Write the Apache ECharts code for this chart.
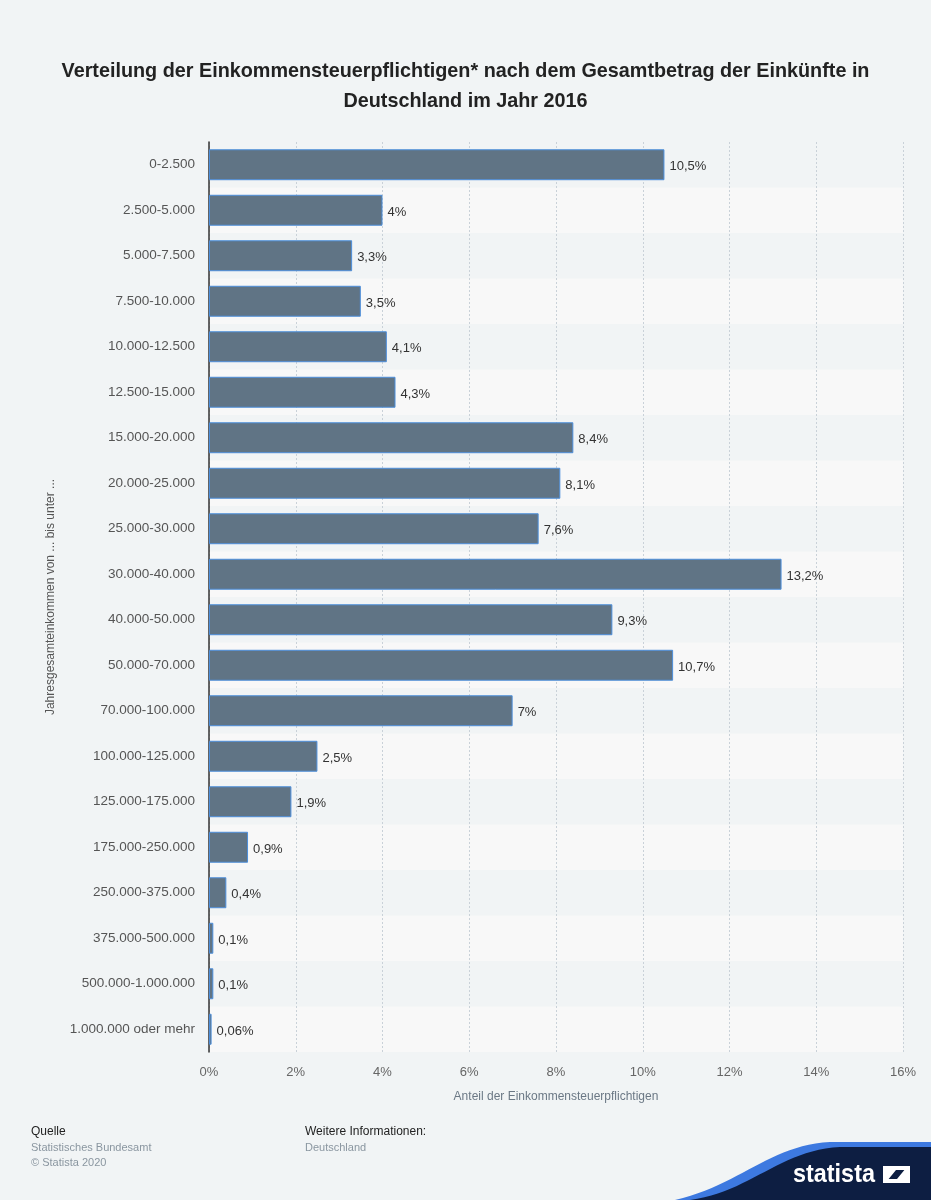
<!DOCTYPE html>
<html>
<head>
<meta charset="utf-8">
<script src="https://cdn.jsdelivr.net/npm/echarts@6/dist/echarts.min.js"></script>
<style>
html,body{margin:0;padding:0;background:#f1f4f5;}
#chart{width:931px;height:1200px;}
</style>
</head>
<body>
<div id="chart"></div>
<script>
const categories = ["0-2.500","2.500-5.000","5.000-7.500","7.500-10.000","10.000-12.500","12.500-15.000","15.000-20.000","20.000-25.000","25.000-30.000","30.000-40.000","40.000-50.000","50.000-70.000","70.000-100.000","100.000-125.000","125.000-175.000","175.000-250.000","250.000-375.000","375.000-500.000","500.000-1.000.000","1.000.000 oder mehr"];
const values = [10.5,4,3.3,3.5,4.1,4.3,8.4,8.1,7.6,13.2,9.3,10.7,7,2.5,1.9,0.9,0.4,0.1,0.1,0.06];
const xTicks = [0,2,4,6,8,10,12,14,16];

const FONT = "'Liberation Sans', Arial, Helvetica, sans-serif";

// decorative logo wave (cubic bezier sampled)
function wave(p0, c1, c2, p1, yTop) {
  const pts = [];
  for (let i = 0; i <= 24; i++) {
    const t = i / 24, u = 1 - t;
    pts.push([
      u*u*u*p0[0] + 3*u*u*t*c1[0] + 3*u*t*t*c2[0] + t*t*t*p1[0],
      u*u*u*p0[1] + 3*u*u*t*c1[1] + 3*u*t*t*c2[1] + t*t*t*p1[1]
    ]);
  }
  pts.push([931, yTop], [931, 1200]);
  return pts;
}

const chart = echarts.init(document.getElementById('chart'));
chart.setOption({
  backgroundColor: '#f1f4f5',
  animation: false,
  textStyle: { fontFamily: FONT },
  title: {
    text: 'Verteilung der Einkommensteuerpflichtigen* nach dem Gesamtbetrag der Einkünfte in\nDeutschland im Jahr 2016',
    left: 'center', top: 52,
    textStyle: { fontFamily: FONT, fontSize: 19.8, fontWeight: 'bold', color: '#222', lineHeight: 30, align: 'center' }
  },
  grid: { left: 209, right: 28, top: 142, bottom: 148, containLabel: false },
  xAxis: {
    type: 'value', min: xTicks[0], max: xTicks[xTicks.length-1], interval: 2,
    axisLine: { show: false }, axisTick: { show: false },
    axisLabel: { formatter: '{value}%', color: '#666', fontSize: 13, margin: 14, fontFamily: FONT },
    splitLine: { show: true, lineStyle: { color: '#c9d1d8', type: [2,2], width: 1 } },
    name: 'Anteil der Einkommensteuerpflichtigen', nameLocation: 'middle', nameGap: 39,
    nameTextStyle: { color: '#6b7885', fontSize: 12, fontFamily: FONT }
  },
  yAxis: {
    type: 'category', data: categories, inverse: true,
    axisLine: { show: true, lineStyle: { color: '#333', width: 1.5 } },
    axisTick: { show: false },
    axisLabel: { color: '#555', fontSize: 13.5, margin: 14, fontFamily: FONT, padding: [6,0,0,0] },
    splitArea: { show: true, areaStyle: { color: ['rgba(0,0,0,0)', '#f8f8f8'] } },
    name: 'Jahresgesamteinkommen von ... bis unter ...', nameLocation: 'middle', nameGap: 152, nameRotate: 90,
    nameTextStyle: { color: '#555', fontSize: 12, fontFamily: FONT }
  },
  series: [{
    type: 'bar', data: values, barCategoryGap: '32%',
    itemStyle: { color: '#607485', borderColor: '#4d8fdc', borderWidth: 1 },
    label: {
      show: true, position: 'right', distance: 5, color: '#333', fontSize: 13, fontFamily: FONT,
      offset: [0, 2],
      formatter: p => String(p.value).replace('.', ',') + '%'
    }
  }],
  graphic: [
    { type: 'text', x: 31, y: 1126, style: { text: 'Quelle', fill: '#222', font: '12px ' + FONT } },
    { type: 'text', x: 31, y: 1142, style: { text: 'Statistisches Bundesamt', fill: '#8a96a0', font: '11px ' + FONT } },
    { type: 'text', x: 31, y: 1157, style: { text: '© Statista 2020', fill: '#8a96a0', font: '11px ' + FONT } },
    { type: 'text', x: 305, y: 1126, style: { text: 'Weitere Informationen:', fill: '#222', font: '12px ' + FONT } },
    { type: 'text', x: 305, y: 1142, style: { text: 'Deutschland', fill: '#8a96a0', font: '11px ' + FONT } },
    { type: 'polygon', shape: { points: wave([675,1200],[740,1185],[770,1145],[830,1142],1142) }, style: { fill: '#3d79e0' } },
    { type: 'polygon', shape: { points: wave([690,1200],[750,1192],[780,1150],[840,1147],1147) }, style: { fill: '#0d1e42' } },
    { type: 'text', x: 793, y: 1175, scaleX: 0.9, style: { text: 'statista', fill: '#fff', font: 'bold 26px ' + FONT, verticalAlign: 'middle' } },
    { type: 'polygon', shape: { points: [[883,1166],[910,1166],[910,1170],[896,1170],[887,1181],[883,1181]] }, style: { fill: '#fff' } },
    { type: 'polygon', shape: { points: [[910,1183],[883,1183],[883,1179],[897,1179],[906,1168],[910,1168]] }, style: { fill: '#fff' } }
  ]
});
</script>
</body>
</html>
